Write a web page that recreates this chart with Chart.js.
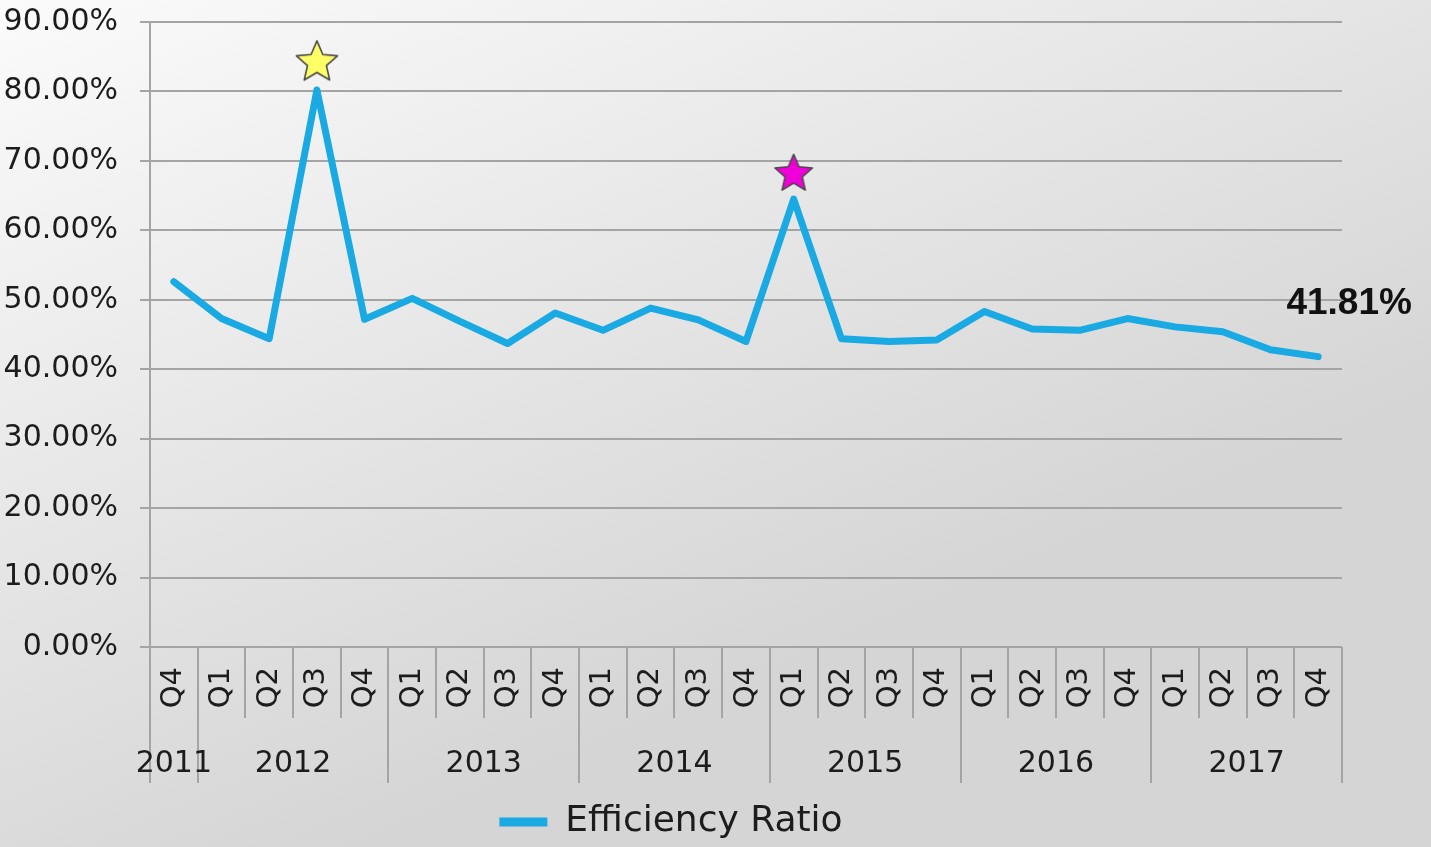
<!DOCTYPE html>
<html>
<head>
<meta charset="utf-8">
<script src="https://cdn.jsdelivr.net/npm/chart.js@4"></script>
<style>
html,body{margin:0;padding:0;background:#e6e6e6;}
#wrap{width:1431px;height:847px;position:relative;}
</style>
</head>
<body>
<div id="wrap"><canvas id="c" width="1431" height="847"></canvas></div>
<script>
// ---- data ----
const quarters = ['Q4','Q1','Q2','Q3','Q4','Q1','Q2','Q3','Q4','Q1','Q2','Q3','Q4','Q1','Q2','Q3','Q4','Q1','Q2','Q3','Q4','Q1','Q2','Q3','Q4'];
const yearOfPoint = ['2011','2012','2012','2012','2012','2013','2013','2013','2013','2014','2014','2014','2014','2015','2015','2015','2015','2016','2016','2016','2016','2017','2017','2017','2017'];
const efficiencyRatio = [52.6,47.3,44.4,80.2,47.2,50.2,46.9,43.7,48.1,45.6,48.8,47.1,44.0,64.5,44.4,44.0,44.2,48.3,45.8,45.6,47.3,46.1,45.4,42.8,41.81];
const starMarks = [null,null,null,84.5,null,null,null,null,null,null,null,null,null,68.4,null,null,null,null,null,null,null,null,null,null,null];
const starColors = ['#ffff66','#f000d8'];
const yTicks = [0,10,20,30,40,50,60,70,80,90];
const seriesName = 'Efficiency Ratio';
const lastLabel = '41.81%';

function makeStar(fill, size){
  const cv = document.createElement('canvas');
  cv.width = size; cv.height = size;
  const g = cv.getContext('2d');
  const cx = size/2, cy = size/2 + size*0.05, R = size*0.47, r = R*0.46;
  g.beginPath();
  for (let i=0;i<10;i++){
    const rad = (i%2===0)?R:r;
    const a = -Math.PI/2 + i*Math.PI/5;
    const px = cx + rad*Math.cos(a), py = cy + rad*Math.sin(a);
    if(i===0) g.moveTo(px,py); else g.lineTo(px,py);
  }
  g.closePath();
  g.fillStyle = fill; g.fill();
  g.lineWidth = 1.6; g.strokeStyle = '#4a4a4a'; g.lineJoin = 'round'; g.stroke();
  return cv;
}
const starImgs = [makeStar(starColors[0],46), makeStar(starColors[1],42)];
let si = 0;
const starStyles = starMarks.map(v => v===null ? 'circle' : starImgs[si++]);

const FONT = '"DejaVu Sans", sans-serif';
const TXT = '#1c1c1c';
const GRID = '#a4a4a4';

const bgPlugin = {
  id:'bg',
  beforeDraw(chart){
    const {ctx,width,height} = chart;
    const g = ctx.createLinearGradient(0,0,width*0.25,height);
    g.addColorStop(0,'#fbfbfb');
    g.addColorStop(1,'#d5d5d5');
    ctx.save(); ctx.fillStyle = g; ctx.fillRect(0,0,width,height); ctx.restore();
  }
};

const axisPlugin = {
  id:'multiAxis',
  afterDraw(chart){
    const x = chart.scales.x, ctx = chart.ctx;
    const bottom = chart.chartArea.bottom;
    const n = quarters.length;
    const half = (x.getPixelForValue(1)-x.getPixelForValue(0))/2;
    ctx.save();
    ctx.strokeStyle = GRID; ctx.lineWidth = 2;
    for (let i=0;i<=n;i++){
      const px = i<n ? x.getPixelForValue(i)-half : x.getPixelForValue(n-1)+half;
      const isYear = i===0 || i===n || yearOfPoint[i]!==yearOfPoint[i-1];
      ctx.beginPath();
      ctx.moveTo(Math.round(px), bottom);
      ctx.lineTo(Math.round(px), bottom + (isYear?136:71));
      ctx.stroke();
    }
    // year labels
    ctx.fillStyle = TXT;
    ctx.font = '30px ' + FONT;
    ctx.textAlign = 'center'; ctx.textBaseline = 'middle';
    let s = 0;
    for (let i=1;i<=n;i++){
      if (i===n || yearOfPoint[i]!==yearOfPoint[s]){
        const cx = (x.getPixelForValue(s)+x.getPixelForValue(i-1))/2;
        ctx.fillText(yearOfPoint[s], cx, bottom + 117);
        s = i;
      }
    }
    // last value label
    const meta = chart.getDatasetMeta(0);
    const pt = meta.data[n-1];
    ctx.font = 'bold 37px "Liberation Sans", Arial, sans-serif';
    ctx.fillStyle = '#111';
    ctx.fillText(lastLabel, pt.x + 31, pt.y - 53);
    ctx.restore();
  }
};

new Chart(document.getElementById('c'), {
  type:'line',
  data:{
    labels: quarters,
    datasets:[
      {
        label: seriesName,
        data: efficiencyRatio,
        borderColor:'#19a9e3',
        backgroundColor:'#19a9e3',
        borderWidth:7,
        pointRadius:0,
        tension:0,
        borderJoinStyle:'round',
        borderCapStyle:'round',
        fill:false
      },
      {
        label:'stars',
        data: starMarks,
        showLine:false,
        pointStyle: starStyles,
        pointRadius: 20,
        borderWidth:0,
        backgroundColor:'transparent',
        borderColor:'transparent'
      }
    ]
  },
  plugins:[bgPlugin, axisPlugin],
  options:{
    responsive:false,
    animation:false,
    devicePixelRatio:1,
    layout:{padding:{left:0,right:89,top:22,bottom:-3}},
    plugins:{
      tooltip:{enabled:false},
      legend:{
        position:'bottom',
        labels:{
          generateLabels:(chart)=> Chart.defaults.plugins.legend.labels.generateLabels(chart)
            .filter(l => l.datasetIndex===0)
            .map(l => Object.assign(l,{lineWidth:0})),
          boxWidth:48, boxHeight:9,
          color:TXT,
          font:{family:FONT,size:36},
          padding:8
        }
      }
    },
    scales:{
      y:{
        min:0,max:90,
        afterBuildTicks(scale){ scale.ticks = yTicks.map(v=>({value:v})); },
        afterFit(scale){ scale.width = 150; scale.paddingTop = 0; scale.paddingBottom = 0; },
        ticks:{
          callback:(v)=> v.toFixed(2)+'%',
          color:TXT,
          font:{family:FONT,size:30},
          padding:22
        },
        grid:{color:GRID,lineWidth:2,tickLength:10},
        border:{color:GRID,width:2}
      },
      x:{
        offset:true,
        afterFit(scale){ scale.height = 149; },
        ticks:{
          minRotation:90,maxRotation:90,
          color:TXT,
          font:{family:FONT,size:29},
          padding:20,
          autoSkip:false
        },
        grid:{display:false,drawTicks:false,offset:true},
        border:{display:false}
      }
    }
  }
});
</script>
</body>
</html>
